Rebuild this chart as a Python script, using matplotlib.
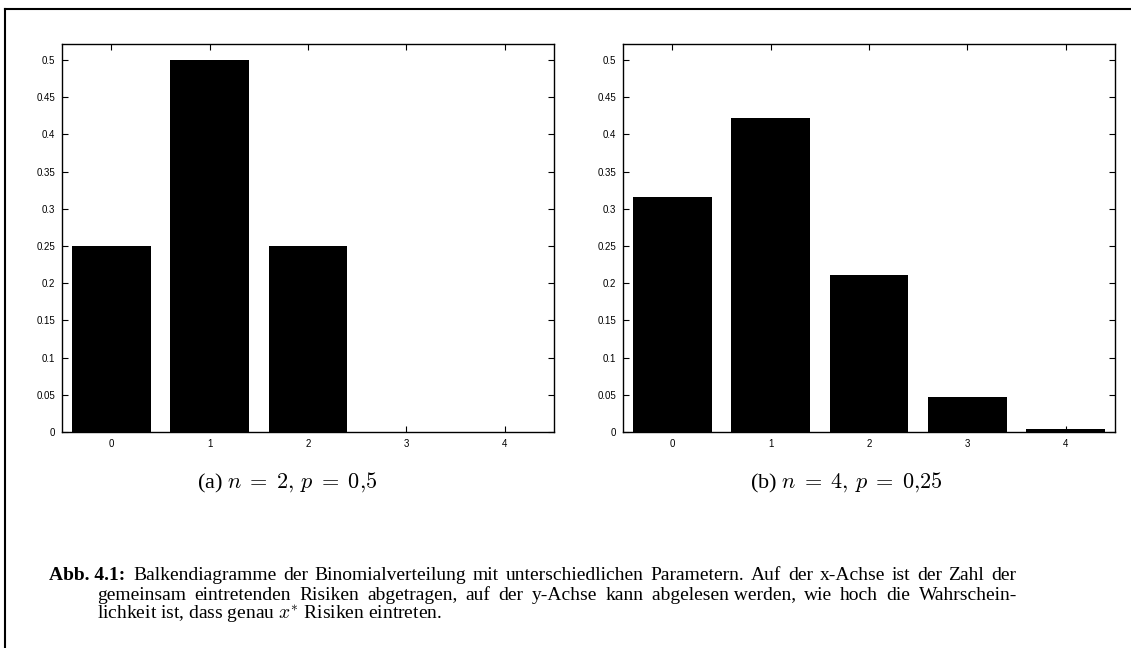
import matplotlib
matplotlib.use("Agg")
import matplotlib.pyplot as plt
from matplotlib.lines import Line2D

# ---------- data ----------
k_values = [0, 1, 2, 3, 4]
probs_a = [0.25, 0.5, 0.25, 0.0, 0.0]              # n=2, p=0.5
probs_b = [0.3164, 0.4219, 0.2109, 0.0469, 0.0039]  # n=4, p=0.25
y_ticks = [0, 0.05, 0.1, 0.15, 0.2, 0.25, 0.3, 0.35, 0.4, 0.45, 0.5]
y_tick_labels = ["0", "0.05", "0.1", "0.15", "0.2", "0.25", "0.3", "0.35", "0.4", "0.45", "0.5"]
sub_captions = [r"(a) $n\;=\;2,\,p\;=\;0{,}5$", r"(b) $n\;=\;4,\,p\;=\;0{,}25$"]
# "~" keeps two words in one text piece (like a LaTeX tie)
caption_lines = [
    "Balkendiagramme der Binomialverteilung mit unterschiedlichen Parametern. Auf der x-Achse ist der Zahl der",
    "gemeinsam eintretenden Risiken abgetragen, auf der y-Achse kann abgelesen~werden, wie hoch die Wahrschein-",
    r"lichkeit ist, dass genau $x^{*}$ Risiken eintreten.",
]

plt.rcParams["mathtext.fontset"] = "cm"

W, H = 1131, 648
fig = plt.figure(figsize=(W / 100, H / 100), dpi=100)
renderer = fig.canvas.get_renderer()

def px_box(x0, y0, x1, y1):
    return [x0 / W, 1 - y1 / H, (x1 - x0) / W, (y1 - y0) / H]

def draw_bars(ax, vals):
    ax.bar(k_values, vals, width=0.8, color="black")
    ax.set_xlim(-0.5, 4.5)
    ax.set_ylim(0, 0.5215)
    ax.set_xticks(k_values)
    ax.set_xticklabels([str(k) for k in k_values])
    ax.set_yticks(y_ticks)
    ax.set_yticklabels(y_tick_labels)
    ax.tick_params(direction="in", top=True, right=True, length=4, width=0.8,
                   labelsize=7, pad=5)
    for lab in ax.get_xticklabels() + ax.get_yticklabels():
        lab.set_fontfamily("Liberation Sans")
    for s in ax.spines.values():
        s.set_linewidth(1.0)

ax1 = fig.add_axes(px_box(62, 44, 554, 432))
draw_bars(ax1, probs_a)
ax2 = fig.add_axes(px_box(623, 44, 1115, 432))
draw_bars(ax2, probs_b)

# sub captions
fig.text(287 / W, 1 - 483 / H, sub_captions[0], ha="center", va="center",
         fontsize=16, family="Liberation Serif")
fig.text(846 / W, 1 - 483 / H, sub_captions[1], ha="center", va="center",
         fontsize=16, family="Liberation Serif")

# figure caption (justified like the LaTeX source), y = baseline in px
cap_fs = 14

def justified(line, x0, x1, y):
    words = [w.replace("~", " ") for w in line.split(" ")]
    arts = [fig.text(0, 1 - y / H, w, ha="left", va="baseline",
                     fontsize=cap_fs, family="Liberation Serif") for w in words]
    widths = [a.get_window_extent(renderer).width for a in arts]
    gap = (x1 - x0 - sum(widths)) / (len(words) - 1)
    x = x0
    for a, w in zip(arts, widths):
        a.set_x(x / W)
        x += w + gap

fig.text(49 / W, 1 - 580 / H, "Abb. 4.1:", ha="left", va="baseline",
         fontsize=cap_fs, family="Liberation Serif", weight="bold")
justified(caption_lines[0], 133, 1016, 580)
justified(caption_lines[1], 97, 1017, 600)
fig.text(97 / W, 1 - 620 / H, caption_lines[2], ha="left", va="baseline",
         fontsize=cap_fs, family="Liberation Serif")

# page frame (top and left rule)
fig.add_artist(Line2D([5 / W, 1], [1 - 9 / H, 1 - 9 / H], color="black", lw=1.5))
fig.add_artist(Line2D([5 / W, 5 / W], [1 - 9 / H, 0], color="black", lw=1.5))

fig.savefig("out.png", dpi=100)
